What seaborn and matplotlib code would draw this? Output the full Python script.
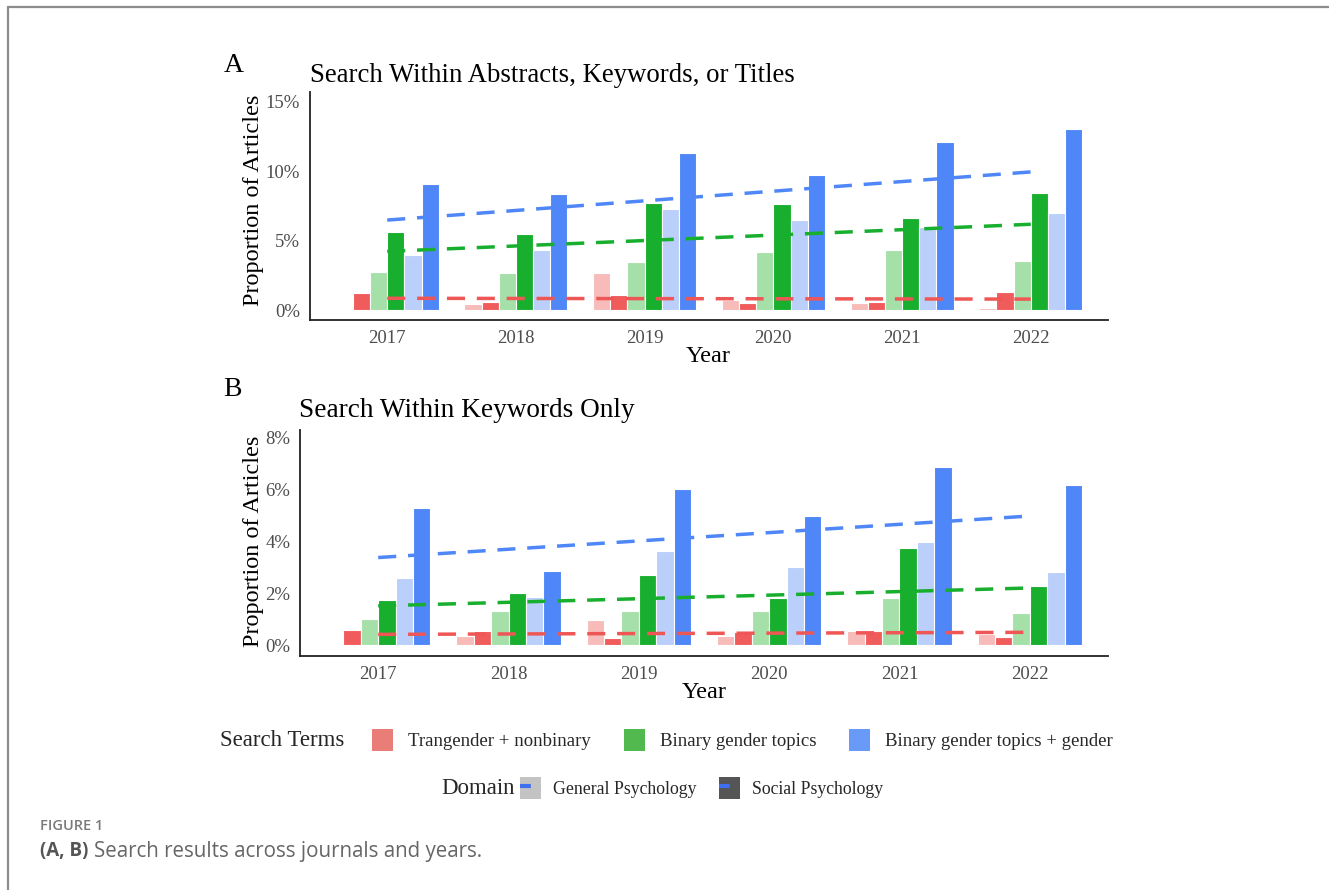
import numpy as np
import pandas as pd
import matplotlib
matplotlib.use("Agg")
import matplotlib.pyplot as plt
import seaborn as sns
from matplotlib.patches import Patch
from matplotlib.lines import Line2D
from matplotlib.legend_handler import HandlerTuple
from matplotlib.ticker import PercentFormatter

# ---- data (proportion of articles, %) ----
years = [2017, 2018, 2019, 2020, 2021, 2022]
terms = ["Trangender + nonbinary", "Binary gender topics", "Binary gender topics + gender"]
domains = ["General Psychology", "Social Psychology"]

# panel A: abstracts, keywords or titles
a_trans_gen = [0.0, 0.40, 2.69, 0.72, 0.53, 0.14]
a_trans_soc = [1.20, 0.58, 1.08, 0.53, 0.58, 1.32]
a_bin_gen = [2.76, 2.64, 3.43, 4.18, 4.34, 3.55]
a_bin_soc = [5.60, 5.47, 7.73, 7.63, 6.60, 8.45]
a_bgg_gen = [3.96, 4.32, 7.27, 6.48, 6.00, 6.96]
a_bgg_soc = [9.10, 8.33, 11.28, 9.72, 12.07, 13.03]

# panel B: keywords only
b_trans_gen = [0.0, 0.36, 0.96, 0.36, 0.54, 0.44]
b_trans_soc = [0.58, 0.55, 0.27, 0.51, 0.56, 0.32]
b_bin_gen = [0.99, 1.31, 1.33, 1.33, 1.80, 1.24]
b_bin_soc = [1.75, 2.01, 2.71, 1.83, 3.73, 2.28]
b_bgg_gen = [2.59, 1.87, 3.64, 3.03, 3.97, 2.84]
b_bgg_soc = [5.29, 2.86, 6.03, 4.97, 6.89, 6.18]

bar_colors = ["#F7BCB9", "#F05B5B", "#A6E0A9", "#17AF2D", "#BBCFFB", "#4F87F8"]
line_colors = ["#EF5656", "#18AE2E", "#4F87F8"]
key_colors = ["#E97E78", "#52B94F", "#6A9AF8"]

W, H = 1329, 890
serif = "Liberation Serif"


def fx(px):
    return px / W


def fy(py):
    return 1 - py / H


def build_frame(series):
    rows = []
    for (term, dom), vals in series.items():
        for i, (yr, v) in enumerate(zip(years, vals)):
            rows.append({"Year": str(yr), "pos": i, "term": term, "domain": dom,
                         "group": term + " | " + dom, "value": v})
    return pd.DataFrame(rows)


def draw_panel(ax, df, ylim, yticks):
    order = [t + " | " + d for t in terms for d in domains]
    sns.barplot(data=df, x="Year", y="value", hue="group", hue_order=order,
                palette=bar_colors, saturation=1, width=0.8, edgecolor="white",
                linewidth=0.8, legend=False, errorbar=None, ax=ax, zorder=2)
    for term, col in zip(terms, line_colors):
        sub = df[df["term"] == term]
        sns.regplot(data=sub, x="pos", y="value", scatter=False, ci=None,
                    truncate=True, ax=ax,
                    line_kws=dict(color=col, lw=2.5, dashes=(5.2, 3.4), zorder=5))
    ax.set_xlim(-0.6, 5.6)
    ax.set_ylim(*ylim)
    ax.set_yticks(yticks)
    ax.yaxis.set_major_formatter(PercentFormatter(xmax=100, decimals=0))
    ax.set_xlabel("")
    ax.set_ylabel("")
    for s in ["top", "right"]:
        ax.spines[s].set_visible(False)
    for s in ["left", "bottom"]:
        ax.spines[s].set_linewidth(1.3)
        ax.spines[s].set_color("#222222")
    ax.tick_params(axis="both", length=4, width=1.0, color="#333333",
                   labelsize=13.5, labelcolor="#4D4D4D", pad=3)
    for lab in ax.get_xticklabels() + ax.get_yticklabels():
        lab.set_family(serif)


sns.set_theme(style="white")
plt.rcParams["font.family"] = [serif, "DejaVu Serif"]

fig = plt.figure(figsize=(W / 100, H / 100), dpi=100)

df_a = build_frame({
    (terms[0], domains[0]): a_trans_gen, (terms[0], domains[1]): a_trans_soc,
    (terms[1], domains[0]): a_bin_gen, (terms[1], domains[1]): a_bin_soc,
    (terms[2], domains[0]): a_bgg_gen, (terms[2], domains[1]): a_bgg_soc,
})
df_b = build_frame({
    (terms[0], domains[0]): b_trans_gen, (terms[0], domains[1]): b_trans_soc,
    (terms[1], domains[0]): b_bin_gen, (terms[1], domains[1]): b_bin_soc,
    (terms[2], domains[0]): b_bgg_gen, (terms[2], domains[1]): b_bgg_soc,
})

ax_a = fig.add_axes([fx(310), fy(320), fx(1108) - fx(310), fy(92) - fy(320)])
draw_panel(ax_a, df_a, (-0.72, 15.7), [0, 5, 10, 15])
ax_b = fig.add_axes([fx(300), fy(656), fx(1108) - fx(300), fy(430) - fy(656)])
draw_panel(ax_b, df_b, (-0.42, 8.3), [0, 2, 4, 6, 8])

# panel tags, titles and axis labels
fig.text(fx(234), fy(66), "A", ha="center", va="center", size=20, color="black")
fig.text(fx(310), fy(76), "Search Within Abstracts, Keywords, or Titles",
         ha="left", va="center", size=19.3, color="black")
fig.text(fx(232), fy(390), "B", ha="center", va="center", size=20, color="black")
fig.text(fx(299), fy(411), "Search Within Keywords Only",
         ha="left", va="center", size=19.6, color="black")
fig.text(fx(253), fy(200), "Proportion of Articles", rotation=90,
         ha="center", va="center", size=17.5, color="black")
fig.text(fx(253), fy(541), "Proportion of Articles", rotation=90,
         ha="center", va="center", size=17.5, color="black")
fig.text(fx(708), fy(356), "Year", ha="center", va="center", size=17.5, color="black")
fig.text(fx(704), fy(692), "Year", ha="center", va="center", size=17.5, color="black")

# legends
fig.text(fx(220), fy(740), "Search Terms", ha="left", va="center", size=16.5)
term_handles = [Patch(facecolor=c, edgecolor="none") for c in key_colors]
fig.legend(term_handles, terms, loc="center left", bbox_to_anchor=(fx(372), fy(740)),
           ncol=3, frameon=False, fontsize=13.5, borderpad=0, borderaxespad=0,
           handlelength=1.12, handleheight=1.4, handletextpad=0.8,
           columnspacing=1.75)

fig.text(fx(441), fy(788), "Domain", ha="left", va="center", size=16.5)
dom_handles = []
for fc in ["#C3C3C3", "#555555"]:
    dom_handles.append((Patch(facecolor=fc, edgecolor="none"),
                        Line2D([], [], color="#3E6FF0", lw=3, dashes=(2.6, 10))))
fig.legend(dom_handles, domains, loc="center left", bbox_to_anchor=(fx(520), fy(788)),
           ncol=2, frameon=False, fontsize=12.8, borderpad=0, borderaxespad=0,
           handlelength=1.18, handleheight=1.48, handletextpad=0.65,
           columnspacing=1.3, handler_map={tuple: HandlerTuple(ndivide=1, pad=0)})

# frame lines of the page
fig.add_artist(Line2D([fx(8), fx(8)], [0, fy(7)], color="#8C8C8C", lw=1.6))
fig.add_artist(Line2D([fx(8), 1], [fy(7), fy(7)], color="#8C8C8C", lw=1.6))

# caption
sans = "Open Sans"
fig.text(fx(40), fy(826), "FIGURE 1", ha="left", va="center", size=10.5,
         color="#7A7A7A", family=sans, weight="semibold")
bold = fig.text(fx(40), fy(851), "(A, B)", ha="left", va="center", size=13.5,
                color="#555555", family=sans, weight="bold")
fig.canvas.draw()
bb = bold.get_window_extent()
fig.text(bb.x1 / W + fx(6), fy(851), "Search results across journals and years.",
         ha="left", va="center", size=14.8, color="#666666", family=sans)

fig.savefig("out.png", dpi=100, facecolor="white")
